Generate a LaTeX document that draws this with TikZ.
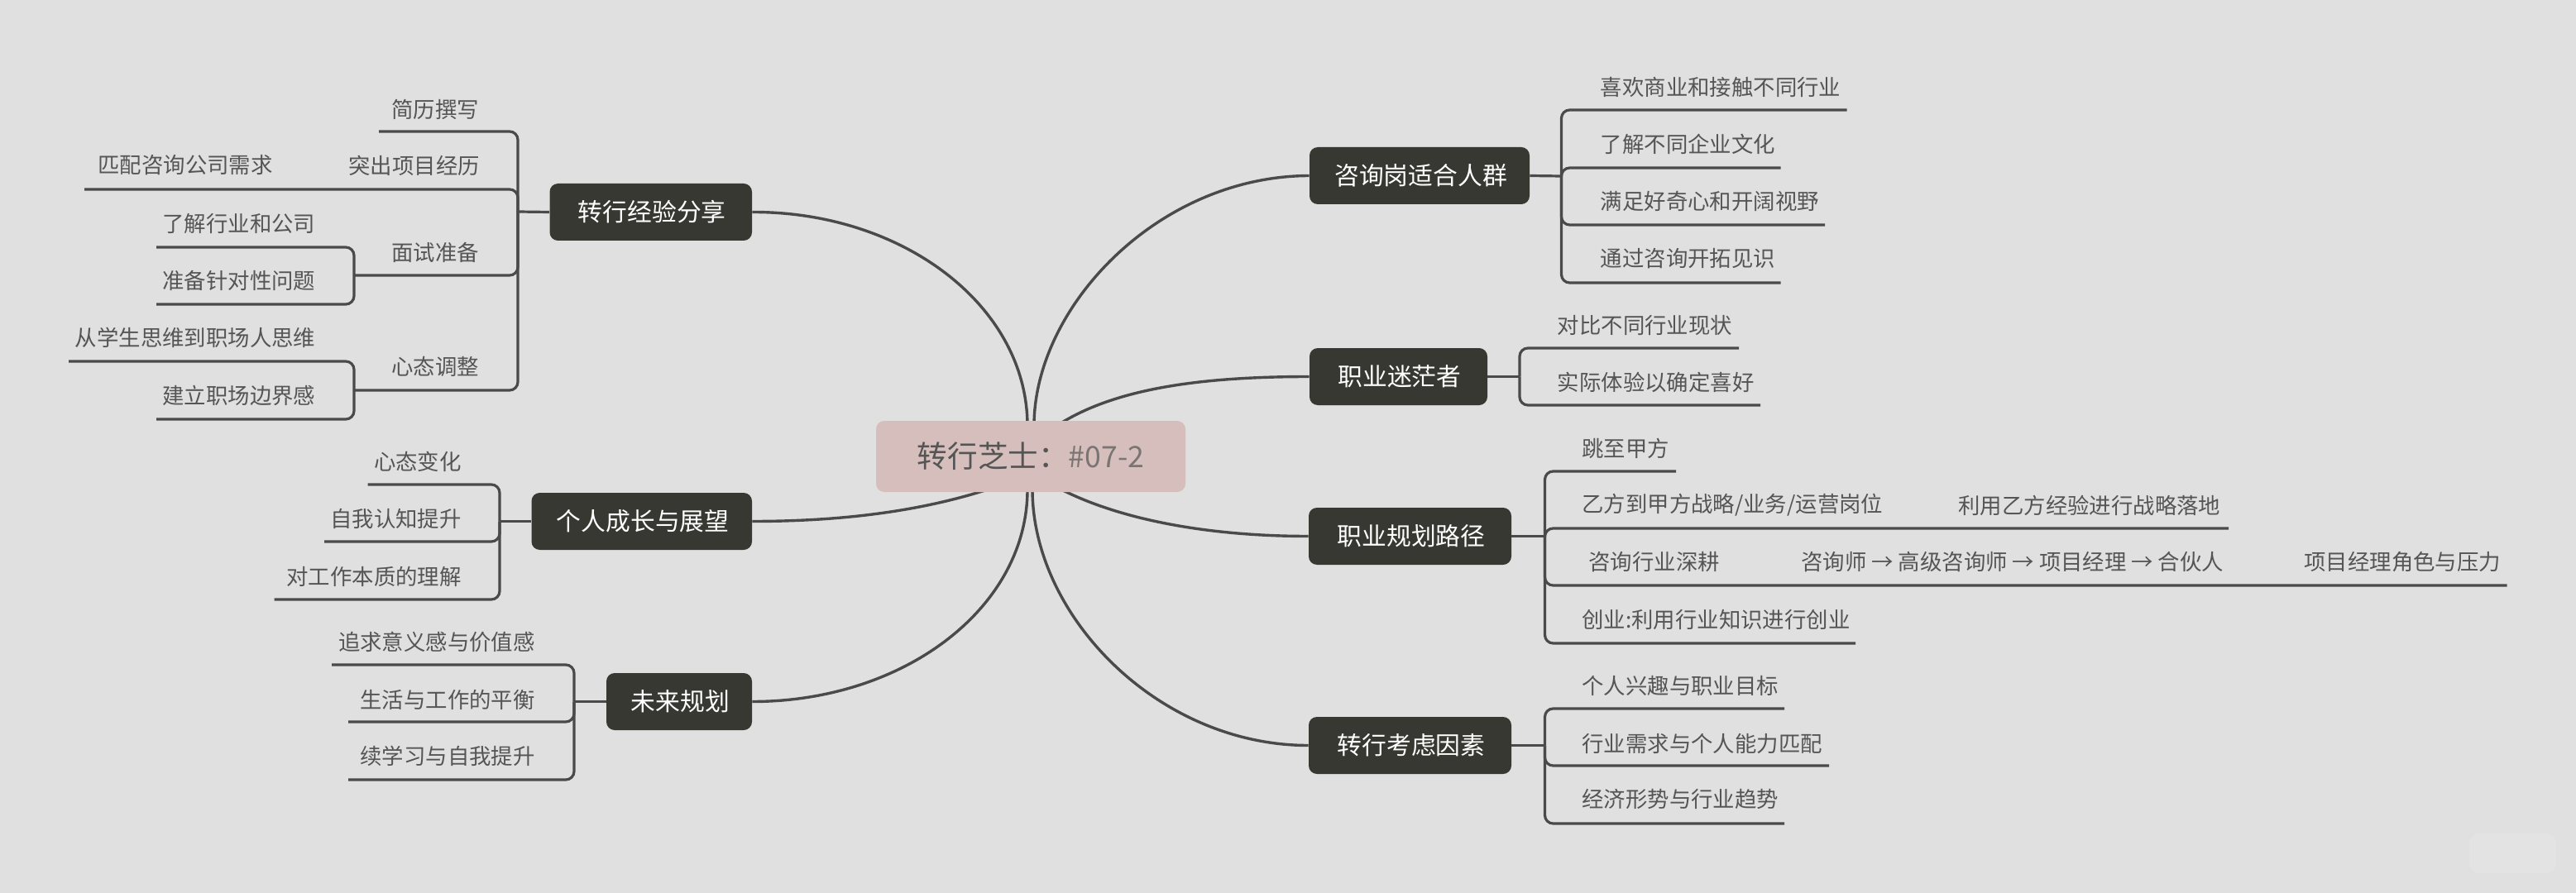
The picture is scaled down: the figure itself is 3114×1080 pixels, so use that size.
\documentclass[tikz,border=0pt]{standalone}
\usepackage{fontspec}
\setmainfont{Noto Sans CJK SC}
\usetikzlibrary{calc}
\pgfdeclarelayer{under}
\pgfsetlayers{under,main}
\definecolor{bgc}{HTML}{E0E0E0}
\definecolor{markc}{HTML}{E3E3E3}
\definecolor{boxc}{HTML}{383832}
\definecolor{linec}{HTML}{4A4A4A}
\definecolor{textc}{HTML}{555555}
\definecolor{rootc}{HTML}{D5BEBB}
\definecolor{tagc}{HTML}{7A7472}
\tikzset{
  branch/.style={fill=boxc,text=white,rounded corners=5pt,inner sep=0pt,font=\fontsize{14.9pt}{18pt}\selectfont},
  leaf/.style={text=textc,inner sep=0pt,font=\fontsize{13.2pt}{16pt}\selectfont},
  twig/.style={draw=linec,line width=1.6pt,rounded corners=5pt},
  stem/.style={draw=linec,line width=1.6pt},
  limb/.style={draw=linec,line width=1.7pt}
}
% #1 name, #2 west x, #3 top y, #4 east x, #5 bottom y, #6 text
\newcommand\branchbox[6]{\node[branch,minimum width={(#4-#2)*0.5pt},minimum height={(#5-#3)*0.5pt}] (#1) at ({(#2+#4)/2},{(#3+#5)/2}) {\hspace{1.5pt}#6};}
\newcommand\leafl[4]{\node[leaf,anchor=east] (#1) at (#2,#3) {#4};}
\newcommand\leafr[4]{\node[leaf,anchor=west] (#1) at (#2,#3) {#4};}
% #1 junction, #2 free-end name, #3 x, #4 y
\newcommand\twigto[4]{\coordinate (#2) at (#3,#4); \draw[twig] (#1) |- (#2);}
\begin{document}
\begin{tikzpicture}[x=0.5pt,y=-0.5pt]
\begin{pgfonlayer}{under}
\fill[bgc] (0,0) rectangle (3114,1080);
\fill[markc,rounded corners=6pt] (2985,1008) rectangle (3090,1056);
\end{pgfonlayer}
\useasboundingbox (0,0) rectangle (3114,1080);

% root
\node[fill=rootc,rounded corners=5pt,inner sep=0pt,minimum width=187pt,minimum height=43pt,text=textc] (root) at (1246,552) {\raisebox{0.5pt}{\fontsize{18.3pt}{22pt}\selectfont 转行芝士：\color{tagc}\fontsize{17.8pt}{22pt}\selectfont\#07-2}};

% branches
\branchbox{b1}{664.5}{222}{909}{291}{转行经验分享}
\branchbox{b2}{642.5}{596}{909}{665}{个人成长与展望}
\branchbox{b3}{733}{814}{909}{883}{未来规划}
\branchbox{b4}{1583}{178}{1849}{247}{咨询岗适合人群}
\branchbox{b5}{1583}{421}{1798}{490}{职业迷茫者}
\branchbox{b6}{1582}{614}{1827}{683}{职业规划路径}
\branchbox{b7}{1582}{867}{1827}{936}{转行考虑因素}

% limbs from root
\begin{pgfonlayer}{under}
\coordinate (r1) at (1242,515);
\coordinate (r2) at (1200,590);
\coordinate (r3) at (1242,592);
\coordinate (r4) at (1250,515);
\coordinate (r5) at (1270,520);
\coordinate (r6) at (1270,585);
\coordinate (r7) at (1248,592);
\draw[limb] (b1.east) .. controls (1093,256) and (1242,371) .. (r1);
\draw[limb] (b2.east) .. controls (1010,630.5) and (1110,620) .. (r2);
\draw[limb] (b3.east) .. controls (1093,848.5) and (1242,735) .. (r3);
\draw[limb] (b4.west) .. controls (1400,213) and (1250,371) .. (r4);
\draw[limb] (b5.west) .. controls (1450,455.5) and (1340,470) .. (r5);
\draw[limb] (b6.west) .. controls (1450,648.5) and (1340,625) .. (r6);
\draw[limb] (b7.west) .. controls (1400,901.5) and (1248,745) .. (r7);
\end{pgfonlayer}

% ---- b1
\coordinate (j1) at (626,256);
\draw[stem] (b1.west) -- (j1);
\leafr{l11}{473}{132}{简历撰写}
\twigto{j1}{e11}{458}{159}
\leafr{l12}{421}{200}{突出项目经历}
\twigto{j1}{e12}{102}{229}
\leafr{l121}{118}{200}{匹配咨询公司需求}
\leafr{l13}{473}{305}{面试准备}
\twigto{j1}{e13}{429}{333}
\coordinate (j13) at (428,333);
\leafr{l131}{196}{270}{了解行业和公司}
\twigto{j13}{e131}{189}{299}
\leafr{l132}{196}{339}{准备针对性问题}
\twigto{j13}{e132}{189}{368}
\leafr{l14}{473}{443}{心态调整}
\twigto{j1}{e14}{429}{472}
\coordinate (j14) at (428,472);
\leafr{l141}{90.5}{408}{从学生思维到职场人思维}
\twigto{j14}{e141}{83}{437}
\leafr{l142}{196}{478}{建立职场边界感}
\twigto{j14}{e142}{189}{507}

% ---- b2
\coordinate (j2) at (604,630.5);
\draw[stem] (b2.west) -- (j2);
\leafl{l21}{558}{558}{心态变化}
\twigto{j2}{e21}{444.5}{586}
\leafl{l22}{558}{627}{自我认知提升}
\twigto{j2}{e22}{392}{655}
\leafl{l23}{558}{697}{对工作本质的理解}
\twigto{j2}{e23}{331.5}{725}

% ---- b3
\coordinate (j3) at (694,848.5);
\draw[stem] (b3.west) -- (j3);
\leafl{l31}{647}{776}{追求意义感与价值感}
\twigto{j3}{e31}{401}{804}
\leafl{l32}{647}{846}{生活与工作的平衡}
\twigto{j3}{e32}{421}{873}
\leafl{l33}{647}{914}{续学习与自我提升}
\twigto{j3}{e33}{421}{943}

% ---- b4
\coordinate (j4) at (1887.5,213);
\draw[stem] (b4.east) -- (j4);
\leafr{l41}{1934.5}{105}{喜欢商业和接触不同行业}
\twigto{j4}{e41}{2232.6}{133}
\leafr{l42}{1934.5}{174}{了解不同企业文化}
\twigto{j4}{e42}{2152.6}{203}
\leafr{l43}{1934.5}{244}{满足好奇心和开阔视野}
\twigto{j4}{e43}{2206}{272}
\leafr{l44}{1934.5}{313}{通过咨询开拓见识}
\twigto{j4}{e44}{2152.6}{342}

% ---- b5
\coordinate (j5) at (1837,455.5);
\draw[stem] (b5.east) -- (j5);
\leafr{l51}{1882.5}{393}{对比不同行业现状}
\twigto{j5}{e51}{2102}{421}
\leafr{l52}{1882.5}{462}{实际体验以确定喜好}
\twigto{j5}{e52}{2128}{490}

% ---- b6
\coordinate (j6) at (1867.5,648.5);
\draw[stem] (b6.east) -- (j6);
\leafr{l61}{1912}{542}{跳至甲方}
\twigto{j6}{e61}{2026}{570}
\leafr{l62}{1912}{611}{乙方到甲方战略/业务/运营岗位}
\twigto{j6}{e62}{2694}{639}
\leafr{l621}{2367}{611}{利用乙方经验进行战略落地}
\leafr{l63}{1920}{680}{咨询行业深耕}
\twigto{j6}{e63}{3030.6}{708}
\leafr{l631}{2177}{680}{咨询师 → 高级咨询师 → 项目经理 → 合伙人}
\leafr{l632}{2785}{680}{项目经理角色与压力}
\leafr{l64}{1912}{750}{创业:利用行业知识进行创业}
\twigto{j6}{e64}{2243}{778}

% ---- b7
\coordinate (j7) at (1867.5,901.5);
\draw[stem] (b7.east) -- (j7);
\leafr{l71}{1912}{829}{个人兴趣与职业目标}
\twigto{j7}{e71}{2157}{857}
\leafr{l72}{1912}{899}{行业需求与个人能力匹配}
\twigto{j7}{e72}{2211}{926}
\leafr{l73}{1912}{967}{经济形势与行业趋势}
\twigto{j7}{e73}{2157}{996}
\end{tikzpicture}
\end{document}
